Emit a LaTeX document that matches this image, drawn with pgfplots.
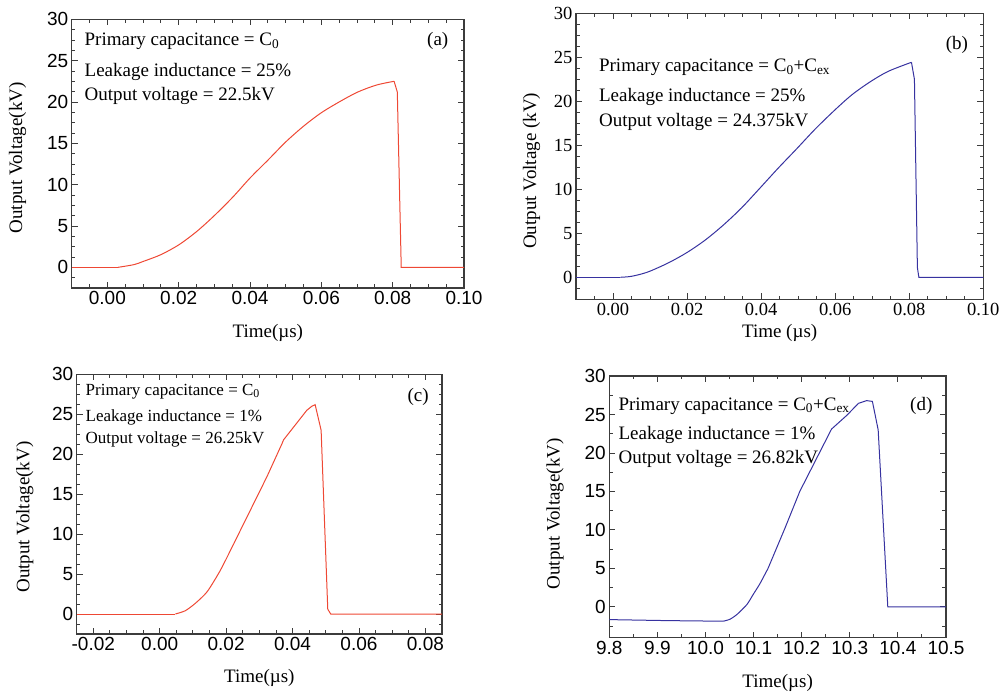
\documentclass[border=0pt]{standalone}
\usepackage{fontspec}
\setmainfont{Liberation Serif}
\newfontfamily\arialf{Liberation Sans}
\usepackage{pgfplots}
\pgfplotsset{compat=1.18}
\definecolor{cred}{RGB}{238,72,52}
\definecolor{cblue}{RGB}{55,50,160}
\definecolor{axgray}{RGB}{60,60,60}

\newcommand{\lab}{\fontsize{19}{22}\selectfont}
\newcommand{\labc}{\fontsize{17}{20}\selectfont}
\newcommand{\tksans}{\arialf\fontsize{19}{20}\selectfont}
\newcommand{\tkserif}{\fontsize{18.5}{20}\selectfont}

\pgfplotsset{
 base/.style={
  scale only axis,
  axis line style={axgray, line width=1.1pt},
  every tick/.style={axgray, line width=0.9pt},
  major tick length=6pt, minor tick length=3.5pt,
  tick align=inside,
  scaled x ticks=false, scaled y ticks=false,
  /pgf/number format/assume math mode=true,
  label style={font=\lab},
  ytick={0,5,10,15,20,25,30},
  yticklabel style={/pgf/number format/fixed},
 },
 xtwo/.style={
  xticklabel style={/pgf/number format/fixed,/pgf/number format/fixed zerofill,/pgf/number format/precision=2},
 },
 yquarter/.style={
  minor ytick={-1.25,1.25,2.5,3.75,6.25,7.5,8.75,11.25,12.5,13.75,16.25,17.5,18.75,21.25,22.5,23.75,26.25,27.5,28.75},
 },
}

\begin{document}
\begin{tikzpicture}
\useasboundingbox (0,0) rectangle (1005pt,692pt);

% (a)
\begin{axis}[base, xtwo, yquarter, at={(71.7pt,404pt)}, anchor=south west, width=392.3pt, height=268.7pt,
 xmin=-0.01, xmax=0.1, ymin=-2.5, ymax=30,
 xtick={0,0.02,0.04,0.06,0.08,0.1},
 minor xtick={-0.005,0.005,0.01,0.015,0.025,0.03,0.035,0.045,0.05,0.055,0.065,0.07,0.075,0.085,0.09,0.095},
 tick label style={font=\tksans},
 xlabel={Time(µs)}, ylabel={Output Voltage(kV)},
 xlabel style={at={(axis description cs:0.5,-0.167)},anchor=center},
 ylabel style={at={(axis description cs:-0.138,0.484)},anchor=center},
]
\addplot[cred, line width=1pt] coordinates {(-0.01,0) (0.003,0)};
\addplot[cred, line width=1pt, smooth, tension=0.5] coordinates {
(0.003,0) (0.0075,0.33) (0.0101,0.72) (0.015,1.53) (0.0201,2.74) (0.0251,4.35) (0.0301,6.3) (0.0353,8.55) (0.040,10.8) (0.0451,13.0) (0.0501,15.2) (0.0551,17.1) (0.060,18.7) (0.0652,20.05) (0.0702,21.2) (0.0755,22.05) (0.0804,22.5)
};
\addplot[cred, line width=1pt] coordinates {(0.0804,22.5) (0.0813,21.2) (0.0824,0) (0.1,0)};
\node[anchor=base west, font=\lab] at (rel axis cs:0.024,0.902) {Primary capacitance = C\textsubscript{0}};
\node[anchor=base west, font=\lab] at (rel axis cs:0.024,0.786) {Leakage inductance = 25\%};
\node[anchor=base west, font=\lab] at (rel axis cs:0.024,0.696) {Output voltage = 22.5kV};
\node[anchor=base east, font=\lab] at (rel axis cs:0.969,0.902) {(a)};
\end{axis}

% (b)
\begin{axis}[base, xtwo, yquarter, at={(576pt,392.7pt)}, anchor=south west, width=407.3pt, height=286pt,
 xmin=-0.01, xmax=0.1, ymin=-2.5, ymax=30,
 xtick={0,0.02,0.04,0.06,0.08,0.1},
 minor xtick={-0.005,0.005,0.01,0.015,0.025,0.03,0.035,0.045,0.05,0.055,0.065,0.07,0.075,0.085,0.09,0.095},
 tick label style={font=\tkserif},
 xlabel={Time (µs)}, ylabel={Output Voltage (kV)},
 xlabel style={at={(axis description cs:0.5,-0.118)},anchor=center},
 ylabel style={at={(axis description cs:-0.109,0.449)},anchor=center},
]
\addplot[cblue, line width=1pt] coordinates {(-0.01,0) (0.002,0)};
\addplot[cblue, line width=1pt, smooth, tension=0.5] coordinates {
(0.002,0) (0.0045,0.08) (0.007,0.3) (0.0099,0.68) (0.0149,1.63) (0.0198,2.77) (0.0248,4.2) (0.0297,5.9) (0.0347,7.88) (0.0396,10.1) (0.0446,12.4) (0.0496,14.6) (0.0545,16.8) (0.0595,18.85) (0.0644,20.7) (0.0694,22.2) (0.0743,23.4) (0.0806,24.43)
};
\addplot[cblue, line width=1pt] coordinates {(0.0806,24.43) (0.0814,22.5) (0.0822,1.1) (0.0826,0) (0.1,0)};
\node[anchor=base west, font=\lab] at (rel axis cs:0.048,0.796) {Primary capacitance = C\textsubscript{0}+C\textsubscript{ex}};
\node[anchor=base west, font=\lab] at (rel axis cs:0.048,0.691) {Leakage inductance = 25\%};
\node[anchor=base west, font=\lab] at (rel axis cs:0.048,0.603) {Output voltage = 24.375kV};
\node[anchor=base east, font=\lab] at (rel axis cs:0.971,0.872) {(b)};
\end{axis}

% (c)
\begin{axis}[base, xtwo, yquarter, at={(76.7pt,58pt)}, anchor=south west, width=365.3pt, height=259.7pt,
 xmin=-0.025, xmax=0.085, ymin=-2.5, ymax=30,
 xtick={-0.02,0,0.02,0.04,0.06,0.08},
 minor xtick={-0.015,-0.01,-0.005,0.005,0.01,0.015,0.025,0.03,0.035,0.045,0.05,0.055,0.065,0.07,0.075},
 tick label style={font=\tksans},
 xlabel={Time(µs)}, ylabel={Output Voltage(kV)},
 xlabel style={at={(axis description cs:0.5,-0.169)},anchor=center},
 ylabel style={at={(axis description cs:-0.142,0.45)},anchor=center},
]
\addplot[cred, line width=1pt] coordinates {(-0.025,0) (0.0047,0)};
\addplot[cred, line width=1pt, smooth, tension=0.4] coordinates {
(0.0047,0) (0.0077,0.41) (0.0107,1.33) (0.0143,2.8) (0.0183,5.5) (0.0223,8.8)
};
\addplot[cred, line width=1pt] coordinates {
(0.0223,8.8) (0.0273,13.0) (0.0323,17.2) (0.0368,21.3) (0.0373,21.8) (0.0443,25.5) (0.0458,26.0) (0.0468,26.2) (0.0486,23.0) (0.0506,0.6) (0.0515,0) (0.085,0)
};
\node[anchor=base west, font=\labc] at (rel axis cs:0.015,0.920) {Primary capacitance = C\textsubscript{0}};
\node[anchor=base west, font=\labc] at (rel axis cs:0.015,0.818) {Leakage inductance = 1\%};
\node[anchor=base west, font=\labc] at (rel axis cs:0.015,0.734) {Output voltage = 26.25kV};
\node[anchor=base east, font=\lab] at (rel axis cs:0.973,0.897) {(c)};
\end{axis}

% (d)
\begin{axis}[base, at={(609.3pt,54.3pt)}, anchor=south west, width=336.7pt, height=261.7pt,
 xmin=9.8, xmax=10.5, ymin=-4, ymax=30,
 xtick={9.8,9.9,10.0,10.1,10.2,10.3,10.4,10.5},
 minor xtick={9.85,9.95,10.05,10.15,10.25,10.35,10.45},
 minor ytick={-2.5,2.5,7.5,12.5,17.5,22.5,27.5},
 xticklabel style={/pgf/number format/fixed,/pgf/number format/fixed zerofill,/pgf/number format/precision=1},
 tick label style={font=\tksans},
 xlabel={Time(µs)}, ylabel={Output Voltage(kV)},
 xlabel style={at={(axis description cs:0.5,-0.173)},anchor=center},
 ylabel style={at={(axis description cs:-0.161,0.473)},anchor=center},
]
\addplot[cblue, line width=1pt] coordinates {(9.8,-1.65) (9.919,-1.78) (10.037,-1.86)};
\addplot[cblue, line width=1pt, smooth, tension=0.4] coordinates {
(10.037,-1.86) (10.051,-1.6) (10.066,-0.95) (10.086,0.3) (10.099,1.6) (10.113,3.0) (10.13,5.0)
};
\addplot[cblue, line width=1pt] coordinates {
(10.13,5.0) (10.165,10.2) (10.196,15.0) (10.231,19.3) (10.262,23.1) (10.294,24.9) (10.318,26.45) (10.335,26.8) (10.347,26.7) (10.359,23.0) (10.379,0) (10.5,0)
};
\node[anchor=base west, font=\lab] at (rel axis cs:0.017,0.870) {Primary capacitance = C\textsubscript{0}+C\textsubscript{ex}};
\node[anchor=base west, font=\lab] at (rel axis cs:0.017,0.758) {Leakage inductance = 1\%};
\node[anchor=base west, font=\lab] at (rel axis cs:0.017,0.666) {Output voltage = 26.82kV};
\node[anchor=base east, font=\lab] at (rel axis cs:0.970,0.867) {(d)};
\end{axis}
\end{tikzpicture}
\end{document}
